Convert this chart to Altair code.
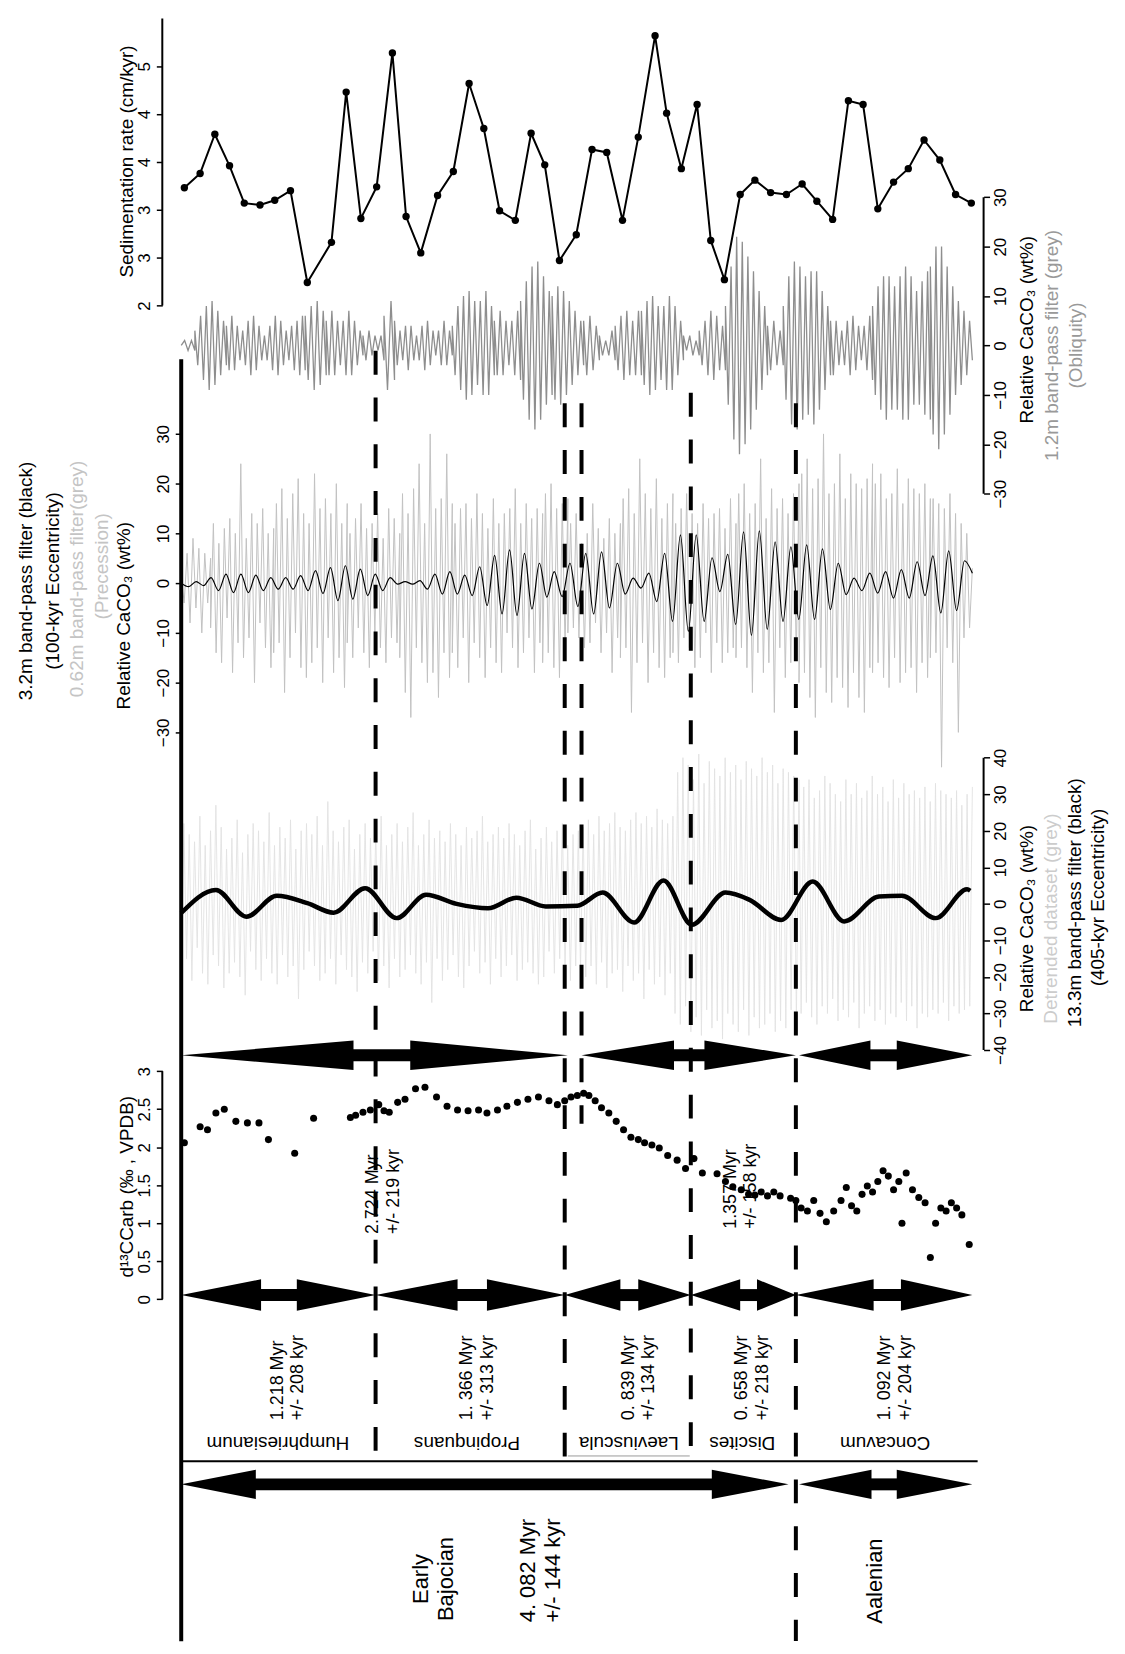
import numpy as np
import pandas as pd
import altair as alt

# reference is read in "display" units; S converts to page pixels
S = 1125 / 1065
Y_TOP = 15 / S
Y_BOT = (15 + 1630) / S
XS = alt.Scale(domain=[172, 930], nice=False, zero=False)

# ---------------- data ----------------
sed_x = [175, 190, 204, 218, 232, 247, 261, 276, 292, 315, 329, 343, 358, 373, 386, 400, 416, 431, 446, 460,
         475, 490, 505, 518, 532, 548, 563, 577, 592, 607, 623, 634, 648, 663, 676, 689, 704, 718, 733, 748,
         763, 777, 792, 807, 821, 835, 850, 864, 879, 894, 909, 924]
sed_rate = [3.23, 3.38, 3.79, 3.46, 3.07, 3.05, 3.10, 3.20, 2.24, 2.66, 4.23, 2.91, 3.24, 4.64, 2.93, 2.55,
            3.15, 3.40, 4.32, 3.85, 2.99, 2.89, 3.80, 3.47, 2.47, 2.74, 3.63, 3.60, 2.89, 3.76, 4.82, 4.01,
            3.43, 4.10, 2.68, 2.27, 3.16, 3.31, 3.18, 3.16, 3.27, 3.09, 2.90, 4.14, 4.10, 3.01, 3.29, 3.43,
            3.73, 3.52, 3.16, 3.07]

d13c_x = [175, 190, 197, 205, 213, 224, 235, 246, 255, 280, 298, 333, 338, 345, 352, 360, 365, 370, 378, 385,
          395, 404, 415, 425, 435, 445, 455, 463, 473, 482, 492, 502, 512, 522, 530, 537, 543, 549, 555, 560,
          566, 572, 579, 586, 593, 600, 607, 613, 620, 627, 635, 644, 652, 660, 668, 682, 690, 697, 705, 712,
          718, 724, 730, 736, 742, 752, 757, 762, 768, 774, 780, 786, 793, 800, 805, 810, 815, 820, 825, 830,
          835, 840, 845, 850, 855, 858, 862, 868, 874, 880, 885, 890, 895, 900, 905, 910, 915, 922]
d13c = [2.06, 2.27, 2.23, 2.45, 2.50, 2.34, 2.32, 2.32, 2.10, 1.92, 2.38, 2.39, 2.42, 2.46, 2.49, 2.56, 2.48,
        2.46, 2.59, 2.63, 2.77, 2.79, 2.66, 2.54, 2.49, 2.48, 2.49, 2.45, 2.49, 2.54, 2.59, 2.63, 2.66, 2.61,
        2.56, 2.61, 2.66, 2.68, 2.71, 2.68, 2.61, 2.52, 2.45, 2.34, 2.23, 2.13, 2.10, 2.06, 2.03, 1.99, 1.89,
        1.83, 1.72, 1.85, 1.66, 1.65, 1.55, 1.48, 1.44, 1.38, 1.37, 1.41, 1.36, 1.41, 1.36, 1.33, 1.30, 1.20,
        1.16, 1.30, 1.13, 1.02, 1.16, 1.30, 1.47, 1.23, 1.16, 1.38, 1.49, 1.41, 1.55, 1.69, 1.62, 1.44, 1.55,
        1.00, 1.66, 1.44, 1.34, 1.27, 0.55, 1.00, 1.20, 1.16, 1.27, 1.20, 1.11, 0.72]

# 1.2 m band-pass (obliquity): segments of depth with extrema values
obliquity = [
    (172, 185, "0 1 -1 1 -1"),
    (185, 215, "3 -4 6 -7 8 -9 9 -8 7 -6 5 -4"),
    (215, 290, "4 -5 6 -5 4 -3 3 -4 5 -6 6 -5 4 -3 2 -3 4 -5 6 -6 5 -4 3 -3 4 -5 5 -6 6 -5"),
    (290, 310, "6 -7 8 -9 9 -8 7 -6"),
    (310, 345, "5 -6 7 -6 5 -4 5 -6 7 -6 5 -4 3 -2"),
    (345, 365, "2 -3 3 -2 2 -1 2 -3"),
    (365, 375, "6 -9 9 -7"),
    (375, 430, "5 -4 3 -3 4 -5 4 -3 2 -3 4 -5 5 -4 3 -2 3 -4 5 -4 3 -2"),
    (430, 470, "4 -6 8 -9 10 -11 11 -10 9 -8 9 -10 11 -10 8 -6"),
    (470, 495, "5 -6 7 -6 5 -4 5 -6 7 -7"),
    (495, 525, "9 -11 13 -15 16 -17 17 -15 14 -12 11 -10"),
    (525, 555, "10 -11 12 -12 11 -10 9 -8 7 -6 5 -4"),
    (555, 570, "5 -6 6 -5 4 -3"),
    (570, 585, "2 -2 1 -2 3 -3"),
    (585, 610, "4 -5 6 -7 7 -6 5 -6 7 -6"),
    (610, 650, "7 -8 9 -10 10 -9 8 -7 8 -9 10 -9 8 -6 5 -3"),
    (650, 665, "2 -1 2 -2 1 -2"),
    (665, 690, "3 -4 5 -6 7 -7 6 -5 4 -5"),
    (690, 730, "8 -12 16 -19 22 -22 21 -20 18 -17 15 -13 11 -9 8 -6"),
    (730, 745, "4 -5 5 -4 3 -4"),
    (745, 790, "8 -11 14 -16 17 -17 16 -15 14 -14 15 -16 15 -13 11 -9 8 -6"),
    (790, 830, "5 -6 5 -4 3 -4 5 -6 6 -5 4 -3 4 -5 6 -7"),
    (830, 885, "8 -10 12 -13 14 -15 14 -13 12 -13 14 -15 16 -15 14 -12 11 -12 13 -14 15 -15"),
    (885, 925, "16 -18 20 -21 20 -18 16 -14 12 -10 9 -8 7 -6 5 -3"),
]

# 0.62 m band-pass (precession)
precession = [
    (172, 200, "2 -4 6 -8 9 -5 7 -10 6 -4 5"),
    (200, 260, "-9 12 -14 8 -16 11 -7 13 -18 10 -12 24 -15 9 -11 14 -20 12 -8 15 -13 10 -17 11"),
    (260, 330, "-14 16 -12 19 -22 13 -15 18 -10 21 -17 14 -19 12 -16 22 -13 15 -20 17 -11 14 -18 20 -15 12 -21 16"),
    (330, 380, "-12 10 -15 13 -9 16 -14 11 -17 12 -10 14 -13 9 -16 15 -11 13 -12 10"),
    (380, 430, "-15 18 -22 14 -27 19 -13 24 -16 12 -20 30 -18 15 -23 17 -14 26 -19 16"),
    (430, 516, "-14 12 -17 15 -11 16 -20 13 -12 18 -15 14 -19 11 -13 17 -16 12 -18 14 -10 15 -13 19 -17 12 -14 16 -11 13 -18 15 -12 14"),
    (516, 540, "-16 18 -14 20 -17 15 -19 16 -13 17"),
    (540, 590, "-10 12 -9 14 -11 8 -13 10 -12 16 -8 11 -14 9 -10 13 -18 10 -11 12"),
    (590, 640, "-15 17 -13 19 -26 14 -16 25 -12 18 -20 15 -14 21 -17 13 -19 16 -15 18"),
    (640, 700, "-14 12 -16 15 -11 18 -13 14 -17 12 -15 16 -10 13 -18 14 -12 15 -16 11 -14 17 -13 12"),
    (700, 760, "-15 18 -13 20 -17 14 -22 16 -14 25 -18 13 -16 19 -26 15 -13 17 -19 14 -16 18 -15 20"),
    (760, 830, "-20 22 -18 25 -23 19 -27 21 -17 30 -22 18 -24 20 -19 26 -21 17 -25 22 -18 20 -23 19 -26 21 -17 24"),
    (830, 885, "-18 20 -16 22 -19 17 -21 18 -15 23 -20 16 -18 21 -17 19 -22 18 -16 20 -19 17"),
    (885, 925, "-15 17 -14 16 -37 15 -13 18 -16 14 -30 12 -11 10 -9 3"),
]

# 3.2 m band-pass (100-kyr eccentricity)
ecc100 = [
    (172, 520, "0 -0.7 0.3 -0.5 1.1 -1.5 1.8 -1.9 1.8 -1.9 1.6 -1.5 1.1 -1.2 1.1 -1.2 1.5 -1.5 2.5 -2.1 "
               "3.1 -3.5 3.5 -3.2 2.8 -2.5 1.8 -1.5 1.1 -0.2 0.3 -0.2 0.5 -1.2 1.8 -2.2 2.3 -2.2 1.6 -2.5 "
               "3.3 -4.5 5.6 -6.2 6.7 -6.5 6.0 -5.2 4.0 -2.8"),
    (527, 925, "2.3 -2.7 4.0 -4.7 6.0 -6.2 6.3 -5.0 4.0 -2.2 1.0 -1.0 2.0 -3.7 6.0 -7.7 9.7 -9.7 9.7 -7.7 "
               "5.1 -1.7 5.8 -8.3 10.3 -10.5 10.5 -9.3 8.3 -7.7 7.3 -7.3 7.7 -7.3 6.9 -5.3 4.0 -2.3 1.0 -1.5 "
               "2.0 -2.0 2.3 -3.0 2.7 -3.0 4.3 -2.5 5.5 -6.0 6.5 -5.5 4.5 2.0"),
]

# detrended CaCO3 dataset
detrended = [
    (172, 550, "-18 22 -15 19 -21 17 -12 24 -19 16 -22 20 -14 27 -17 21 -23 15 -19 18 "
               "-16 23 -20 14 -25 19 -13 22 -18 20 -21 17 -15 25 -19 16 -22 21 -14 18 "
               "-20 23 -17 15 -26 20 -18 22 -13 19 -17 24 -21 16 -19 28 -15 20 -22 17 "
               "-14 21 -18 23 -20 15 -24 19 -16 22 -19 18 -13 20 -21 24 -17 16 -23 19 "
               "-15 22 -20 17 -18 21 -14 25 -19 16 -22 19 -16 23 -27 18 -15 20 -21 17 "
               "-18 22 -14 19 -20 16 -23 21 -17 18 -13 20 -19 24 -16 17 -22 19 -15 21 "
               "-20 18 -17 22 -14 19 -21 16 -18 20 -16 23 -19 15 -22 18 -20 21 -13 17 "
               "-19 20 -15 22 -18 16 -21 19 -17 20"),
    (552, 640, "-18 21 -20 23 -17 19 -22 24 -16 20 -23 22 -19 25 -18 21 -24 20 -17 23 "
               "-21 25 -19 22 -26 24 -18 21 -22 26 -20 23 -25 22 -19 24"),
    (642, 760, "-30 36 -33 40 -28 38 -35 34 -31 41 -36 33 -29 39 -34 37 -32 35 -37 40 "
               "-30 36 -33 38 -35 34 -29 39 -36 37 -31 35 -34 40 -33 36 -30 38 -35 33 "
               "-32 37 -34 36 -29 35 -31 34"),
    (762, 925, "-30 32 -27 34 -31 29 -33 31 -28 35 -30 33 -26 30 -32 28 -29 34 -31 30 "
               "-27 33 -34 29 -30 31 -28 35 -32 30 -29 32 -33 28 -30 34 -31 29 -27 33 "
               "-32 30 -28 31 -34 29 -30 32 -31 28 -29 33 -30 31 -27 30 -32 29 -28 31 "
               "-30 27 -29 30 -28 32"),
]

# 13.3 m band-pass (405-kyr eccentricity)
ecc405_x = [172, 205, 234, 263, 292, 317, 347, 377, 405, 434, 464, 491, 519, 549, 573, 603, 631, 658,
            690, 713, 743, 773, 803, 836, 858, 890, 920, 923]
ecc405 = [-2.5, 3.8, -3.5, 2.2, 0.2, -2.4, 4.3, -3.9, 2.5, 0.0, -1.2, 1.7, -0.7, -0.5, 3.1, -5.1, 6.4,
          -5.7, 3.1, 1.1, -4.4, 6.1, -4.8, 2.0, 2.2, -3.9, 4.0, 3.6]

# boundaries (depth, top, bottom)
dashed = [(357, 330, 1386), (537, 380, 1386), (553, 380, 1065), (657, 370, 1386), (757, 380, 1557)]

# arrows: (row y, tip left, head end, head start, tip right, half height)
arrows = [
    (1000, 172, 336, 390, 540, 14), (1000, 553, 641, 670, 757, 14), (1000, 760, 828, 853, 925, 14),
    (1228, 172, 248, 282, 357, 15), (1228, 357, 435, 463, 537, 15), (1228, 537, 590, 607, 657, 15),
    (1228, 657, 704, 720, 757, 15), (1228, 757, 831, 857, 925, 15),
    (1408, 172, 243, 677, 750, 14), (1408, 760, 829, 853, 925, 14),
]

zones = ["Humphriesianum", "Propinquans", "Laeviuscula", "Discites", "Concavum"]
zone_x = [264, 444, 598, 706, 842]
zone_dur = ["1.218 Myr\n+/- 208 kyr", "1. 366 Myr\n+/- 313 kyr", "0. 839 Myr\n+/- 134 kyr",
            "0. 658 Myr\n+/- 218 kyr", "1. 092 Myr\n+/- 204 kyr"]


def seg_df(segs):
    xs, vs = [], []
    for a, b, s in segs:
        v = [float(t) for t in s.split()]
        xs += list(np.linspace(a, b, len(v)))
        vs += v
    return pd.DataFrame({"x": xs, "v": vs})


def dom(z, k):
    return [(z - Y_BOT) / k, (z - Y_TOP) / k]


FONT = "Liberation Sans"
X = alt.X("x:Q", scale=XS, axis=None)
YA = alt.Y("y:Q", scale=alt.Scale(domain=[Y_BOT, Y_TOP], nice=False, zero=False), axis=None)
YA2 = alt.Y2("y2:Q")


def vaxis(orient, offset, values):
    return alt.Axis(orient=orient, offset=offset, values=values, domain=False, grid=False, title=None,
                    format="~g", labelOverlap=False, labelFlush=False,
                    labelAngle=270, labelAlign="center",
                    labelBaseline="bottom" if orient == "left" else "top",
                    tickSize=6, tickWidth=1.5, tickColor="black", labelColor="black",
                    labelFontSize=17, labelFont=FONT, labelPadding=3)


def vy(z, k, axis=None):
    return alt.Y("v:Q", scale=alt.Scale(domain=dom(z, k), nice=False, zero=False), axis=axis)


layers = []

# obliquity panel
obl = seg_df(obliquity)
layers.append(alt.Chart(obl).mark_line(color="#8e8e8e", strokeWidth=1.3).encode(
    x=X, y=vy(325, 4.7, vaxis("right", 6, list(range(-30, 31, 10))))))
layers.append(alt.Chart(pd.DataFrame({"v": [-30], "v2": [30]})).mark_rule(strokeWidth=2, color="black").encode(
    x=alt.value(806), y=vy(325, 4.7), y2="v2:Q"))

# precession + 100-kyr
pre = seg_df(precession)
layers.append(alt.Chart(pre).mark_line(color="#c2c2c2", strokeWidth=1).encode(
    x=X, y=vy(551, 4.73, vaxis("left", 0, list(range(-30, 31, 10))))))
e100 = seg_df(ecc100)
layers.append(alt.Chart(e100).mark_line(color="black", strokeWidth=1.2, interpolate="monotone").encode(
    x=X, y=vy(551, 4.73)))

# detrended + 405-kyr
det = seg_df(detrended)
layers.append(alt.Chart(det).mark_line(color="#e2e2e2", strokeWidth=0.9).encode(
    x=X, y=vy(856, 3.475, vaxis("right", 6, list(range(-40, 41, 10))))))
layers.append(alt.Chart(pd.DataFrame({"v": [-40], "v2": [40]})).mark_rule(strokeWidth=2, color="black").encode(
    x=alt.value(806), y=vy(856, 3.475), y2="v2:Q"))
layers.append(alt.Chart(pd.DataFrame({"x": ecc405_x, "v": ecc405})).mark_line(
    color="black", strokeWidth=4.5, interpolate="monotone").encode(x=X, y=vy(856, 3.475)))

# sedimentation rate
sed = pd.DataFrame({"x": sed_x, "v": sed_rate})
layers.append(alt.Chart(sed).mark_line(color="black", strokeWidth=2).encode(
    x=X, y=vy(469, 91, vaxis("left", 19, [2, 2.5, 3, 3.5, 4, 4.5, 5]))))
layers.append(alt.Chart(sed).mark_circle(color="black", size=55, opacity=1).encode(x=X, y=vy(469, 91)))
layers.append(alt.Chart(pd.DataFrame({"v": [2], "v2": [5]})).mark_rule(strokeWidth=2, color="black").encode(
    x=alt.value(-19), y=vy(469, 91), y2="v2:Q"))

# d13C
dc = pd.DataFrame({"x": d13c_x, "v": d13c})
layers.append(alt.Chart(dc).mark_circle(color="black", size=50, opacity=1).encode(
    x=X, y=vy(1232, 72.3, vaxis("left", 19, [0, 0.5, 1, 1.5, 2, 2.5, 3]))))
layers.append(alt.Chart(pd.DataFrame({"v": [0], "v2": [3]})).mark_rule(strokeWidth=2, color="black").encode(
    x=alt.value(-19), y=vy(1232, 72.3), y2="v2:Q"))

# frame line, horizontal divider, boundaries
layers.append(alt.Chart(pd.DataFrame({"x": [172], "y": [338], "y2": [Y_BOT]})).mark_rule(
    strokeWidth=4, color="black").encode(x=X, y=YA, y2=YA2))
layers.append(alt.Chart(pd.DataFrame({"x": [172], "x2": [930], "y": [1386]})).mark_rule(
    strokeWidth=2, color="black").encode(x=X, x2="x2:Q", y=YA))
layers.append(alt.Chart(pd.DataFrame({"x": [540], "x2": [656], "y": [1381]})).mark_rule(
    strokeWidth=1, color="#999999").encode(x=X, x2="x2:Q", y=YA))
layers.append(alt.Chart(pd.DataFrame({"x": [x for x, _, _ in dashed], "y": [t for _, t, _ in dashed],
                                      "y2": [b for _, _, b in dashed]})).mark_rule(
    strokeWidth=4, color="black", strokeDash=[24, 23]).encode(x=X, y=YA, y2=YA2))

# arrows
shafts, heads = [], []
for i, (yy, a, h1, h2, b, hh) in enumerate(arrows):
    shafts.append({"x": h1 - 2, "x2": h2 + 2, "y": yy})
    heads += [{"g": f"{i}L", "x": a, "y": yy, "y2": yy}, {"g": f"{i}L", "x": h1, "y": yy - hh, "y2": yy + hh},
              {"g": f"{i}R", "x": h2, "y": yy - hh, "y2": yy + hh}, {"g": f"{i}R", "x": b, "y": yy, "y2": yy}]
layers.append(alt.Chart(pd.DataFrame(shafts)).mark_rule(strokeWidth=12, color="black").encode(
    x=X, x2="x2:Q", y=YA))
layers.append(alt.Chart(pd.DataFrame(heads)).mark_area(color="black", opacity=1).encode(
    x=X, y=YA, y2=YA2, detail="g:N"))


def texts(rows, size, angle=270, baseline="middle", align="center"):
    return alt.Chart(pd.DataFrame(rows)).mark_text(
        font=FONT, fontSize=size, angle=angle, baseline=baseline, align=align,
        lineBreak="\n", lineHeight=size * 1.15
    ).encode(x=X, y=YA, text="t:N", color=alt.Color("c:N", scale=None))


# axis titles
layers.append(texts([
    {"x": 120, "y": 150, "t": "Sedimentation rate (cm/kyr)", "c": "black"},
    {"x": 24, "y": 549, "t": "3.2m band-pass filter (black)", "c": "black"},
    {"x": 50, "y": 549, "t": "(100-kyr Eccentricity)", "c": "black"},
    {"x": 73, "y": 547, "t": "0.62m band-pass filter(grey)", "c": "#c4c4c4"},
    {"x": 97, "y": 535, "t": "(Precession)", "c": "#c4c4c4"},
    {"x": 118, "y": 582, "t": "Relative CaCO\u2083 (wt%)", "c": "black"},
    {"x": 120, "y": 1125, "t": "d\u00b9\u00b3CCarb (\u2030 , VPDB)", "c": "black"},
    {"x": 977, "y": 310, "t": "Relative CaCO\u2083 (wt%)", "c": "black"},
    {"x": 1001, "y": 325, "t": "1.2m band-pass filter (grey)", "c": "#999999"},
    {"x": 1024, "y": 325, "t": "(Obliquity)", "c": "#999999"},
    {"x": 977, "y": 870, "t": "Relative CaCO\u2083 (wt%)", "c": "black"},
    {"x": 1000, "y": 870, "t": "Detrended dataset (grey)", "c": "#cccccc"},
    {"x": 1023, "y": 855, "t": "13.3m band-pass filter (black)", "c": "black"},
    {"x": 1045, "y": 850, "t": "(405-kyr Eccentricity)", "c": "black"},
], 19))

# durations
layers.append(texts([{"x": 355, "y": 1170, "t": "2.724 Myr\n+/- 219 kyr", "c": "black"},
                     {"x": 695, "y": 1165, "t": "1.357 Myr\n+/- 158 kyr", "c": "black"}] +
                    [{"x": x, "y": 1347, "t": t, "c": "black"} for x, t in zip(zone_x, zone_dur)],
                    18, align="left"))
layers.append(texts([{"x": x, "y": 1369, "t": z, "c": "black"} for x, z in zip(zone_x, zones)], 19, angle=180))
layers.append(texts([{"x": 400, "y": 1498, "t": "Early\nBajocian", "c": "black"},
                     {"x": 502, "y": 1490, "t": "4. 082 Myr\n+/- 144 kyr", "c": "black"},
                     {"x": 832, "y": 1500, "t": "Aalenian", "c": "black"}], 22))

chart = alt.layer(*layers).resolve_scale(y="independent").properties(
    width=800, height=1630,
    autosize=alt.AutoSizeParams(type="none"),
    padding={"left": 174, "top": 7, "right": 140, "bottom": 0},
).configure_view(stroke=None)

chart.save("out.html", embed_options={"renderer": "svg", "actions": False})
